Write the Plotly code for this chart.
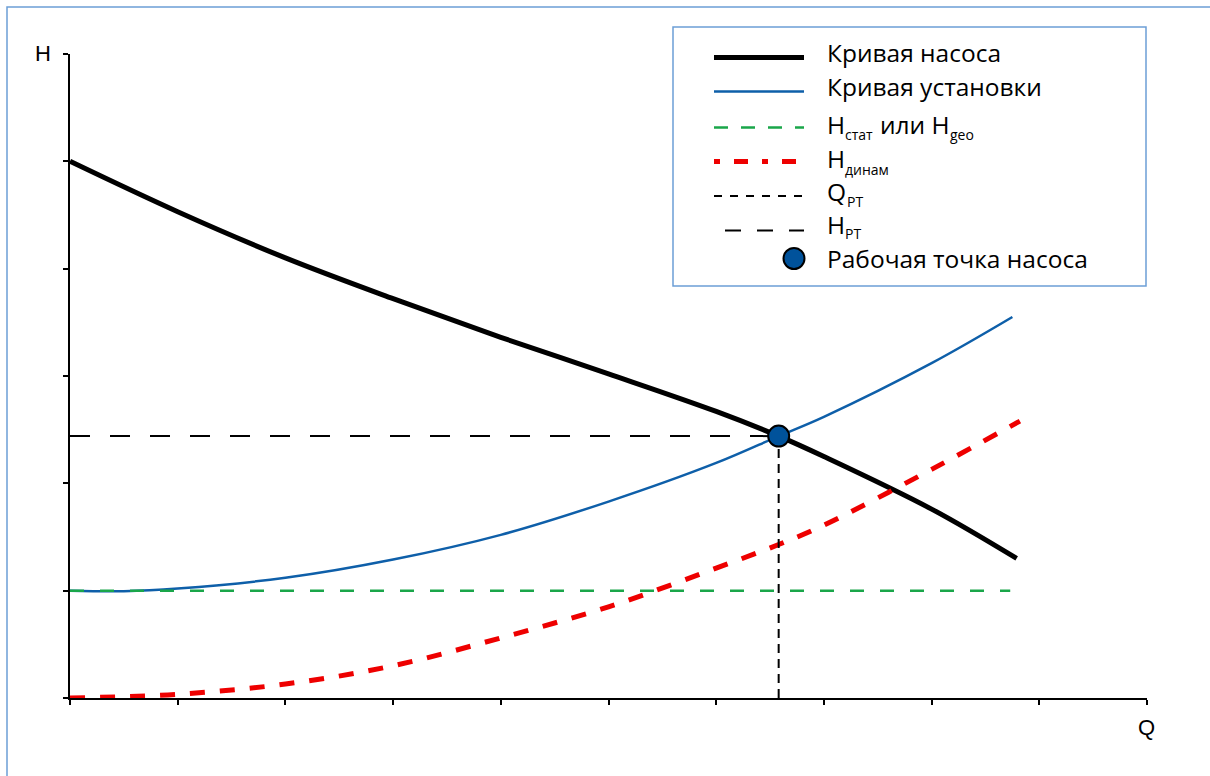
import plotly.graph_objects as go

# ---- data ----
pump_q = [0, 1, 2, 3, 4, 5, 6, 6.58, 7, 8, 8.79]
pump_h = [5.00, 4.53, 4.10, 3.72, 3.36, 3.02, 2.67, 2.44, 2.25, 1.76, 1.30]

system_q = [0, 0.5, 1, 2, 3, 4, 5, 6, 6.58, 7, 8, 8.75]
system_h = [1.00, 0.995, 1.02, 1.12, 1.29, 1.52, 1.83, 2.19, 2.44, 2.62, 3.12, 3.55]

static_q = [0, 8.73]
static_h = [1.0, 1.0]

dyn_q = [0, 1, 2, 3, 4, 5, 6, 6.58, 7, 8, 8.82]
dyn_h = [0.0, 0.035, 0.13, 0.30, 0.56, 0.85, 1.21, 1.43, 1.61, 2.13, 2.58]

q_pt = 6.58
h_pt = 2.44

# legend rows: list of (text piece, is_subscript)
legend_rows = [
    [("Кривая насоса", False)],
    [("Кривая установки", False)],
    [("H", False), ("стат", True), ("или H", False), ("geo", True)],
    [("H", False), ("динам", True)],
    [("Q", False), ("PT", True)],
    [("H", False), ("PT", True)],
    [("Рабочая точка насоса", False)],
]

# ---- styling / layout ----
W, H = 1210, 776
ML, MR, MT, MB = 70, 63, 54, 78
PW = W - ML - MR
PH = H - MT - MB
BLUE = "#0E5FA9"
MARK = "#00529B"
GREEN = "#1AA64A"
RED = "#EE0000"
FRAME = "#6C9FD6"
LFONT = "Open Sans, Noto Sans, sans-serif"
AFONT = "Liberation Sans, Arial, sans-serif"
MAIN_SIZE = 24.5
SUB_SIZE = 14

# pixel positions of legend text pieces (row by row)
piece_x = [[825], [825], [825, 843, 878, 948], [825, 843], [825, 845], [825, 843], [825]]
main_y = [52.5, 87, 124, 158, 191, 225, 258.5]
sub_y = [None, None, 134.5, 169, 201, 234, None]


def xp(px):
    return (px - ML) / PW


def yp(py):
    return (MT + PH - py) / PH


fig = go.Figure()
fig.add_trace(go.Scatter(x=pump_q, y=pump_h, mode="lines", line=dict(color="black", width=5, shape="spline"),
                         name="Кривая насоса", showlegend=False))
fig.add_trace(go.Scatter(x=system_q, y=system_h, mode="lines", line=dict(color=BLUE, width=2.5, shape="spline"),
                         name="Кривая установки", showlegend=False))
fig.add_trace(go.Scatter(x=static_q, y=static_h, mode="lines", line=dict(color=GREEN, width=2.5, dash="14px,16px"),
                         name="Hstat", showlegend=False))
fig.add_trace(go.Scatter(x=dyn_q, y=dyn_h, mode="lines", line=dict(color=RED, width=5, dash="15px,15px", shape="spline"),
                         name="Hdyn", showlegend=False))
fig.add_trace(go.Scatter(x=[q_pt, q_pt], y=[0, h_pt], mode="lines", line=dict(color="black", width=2, dash="9px,6px"),
                         name="QPT", showlegend=False))
fig.add_trace(go.Scatter(x=[0, q_pt], y=[h_pt, h_pt], mode="lines", line=dict(color="black", width=2, dash="20px,20px"),
                         name="HPT", showlegend=False))
fig.add_trace(go.Scatter(x=[q_pt], y=[h_pt], mode="markers",
                         marker=dict(size=21, color=MARK, line=dict(color="black", width=2)),
                         name="Рабочая точка насоса", showlegend=False))

shapes = []
# outer frame (only top and left edges fall inside the window)
shapes.append(dict(type="rect", xref="paper", yref="paper", x0=xp(7), x1=xp(1230), y0=yp(7), y1=yp(800),
                   line=dict(color=FRAME, width=1.5), fillcolor="rgba(0,0,0,0)", layer="below"))
# legend box
shapes.append(dict(type="rect", xref="paper", yref="paper", x0=xp(673), x1=xp(1146), y0=yp(27), y1=yp(286),
                   line=dict(color=FRAME, width=1.5), fillcolor="rgba(0,0,0,0)"))

rows_line_y = [57.5, 91.5, 127.5, 161.5, 196, 230.5]
sample_styles = [
    dict(color="black", width=5),
    dict(color=BLUE, width=2.5),
    dict(color=GREEN, width=2.5, dash="14px,13px"),
    dict(color=RED, width=5, dash="6px,14px,14px,14px"),
    dict(color="black", width=2, dash="8px,8px"),
    dict(color="black", width=2, dash="16px,16px"),
]
sample_x0 = [714, 714, 714, 714, 714, 725]
for y, st, x0 in zip(rows_line_y, sample_styles, sample_x0):
    shapes.append(dict(type="line", xref="paper", yref="paper", x0=xp(x0), x1=xp(804), y0=yp(y), y1=yp(y), line=st))
shapes.append(dict(type="circle", xref="paper", yref="paper", xsizemode="pixel", ysizemode="pixel",
                   xanchor=xp(794), yanchor=yp(258.5), x0=-10.5, x1=10.5, y0=-10.5, y1=10.5,
                   fillcolor=MARK, line=dict(color="black", width=2)))

annotations = []
for r, pieces in enumerate(legend_rows):
    for (txt, is_sub), px in zip(pieces, piece_x[r]):
        annotations.append(dict(
            text=txt, xref="paper", yref="paper", x=xp(px),
            y=yp(sub_y[r] if is_sub else main_y[r]),
            xanchor="left", yanchor="middle", showarrow=False,
            font=dict(family=LFONT, size=SUB_SIZE if is_sub else MAIN_SIZE, color="black")))
annotations.append(dict(text="H", xref="paper", yref="paper", x=xp(43), y=yp(53), xanchor="center",
                        yanchor="middle", showarrow=False, font=dict(family=AFONT, size=22, color="black")))
annotations.append(dict(text="Q", xref="paper", yref="paper", x=xp(1146), y=yp(727), xanchor="center",
                        yanchor="middle", showarrow=False, font=dict(family=AFONT, size=22, color="black")))

axis_common = dict(showgrid=False, zeroline=False, showline=True, linecolor="black", linewidth=2,
                   ticks="outside", ticklen=5, tickwidth=2, tickcolor="black", showticklabels=False,
                   fixedrange=True)
fig.update_layout(
    width=W, height=H,
    margin=dict(l=ML, r=MR, t=MT, b=MB),
    paper_bgcolor="white", plot_bgcolor="white",
    xaxis=dict(range=[0, 10], dtick=1, tick0=0, **axis_common),
    yaxis=dict(range=[0, 6], dtick=1, tick0=0, **axis_common),
    shapes=shapes,
    annotations=annotations,
    showlegend=False,
)

fig.write_html("out.html", config={"displayModeBar": False},
               post_script="document.body.style.margin='0px';document.body.style.overflow='hidden';")
